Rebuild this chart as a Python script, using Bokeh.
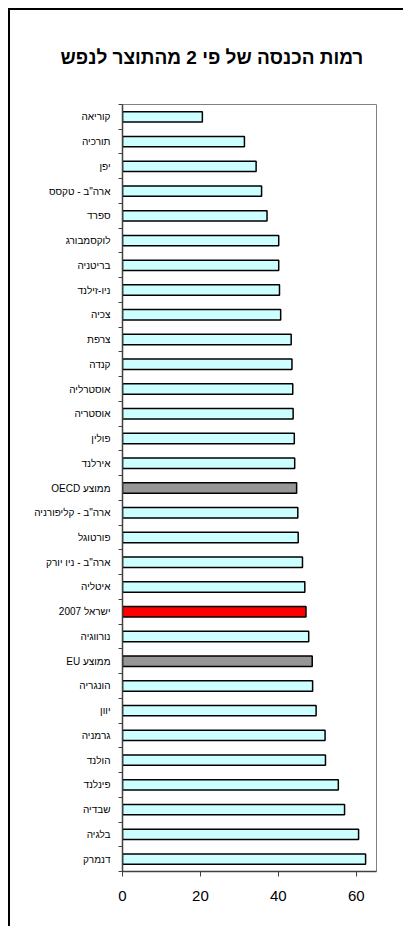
from bokeh.plotting import figure
from bokeh.models import Range1d, FixedTicker, ColumnDataSource
from bokeh.embed import file_html
from bokeh.resources import INLINE

title_text = "רמות הכנסה של פי 2 מהתוצר לנפש"

countries = [
    "קוריאה", "תורכיה", "יפן", 'ארה"ב - טקסס', "ספרד", "לוקסמבורג", "בריטניה",
    "ניו-זילנד", "צכיה", "צרפת", "קנדה", "אוסטרליה", "אוסטריה", "פולין", "אירלנד",
    "ממוצע OECD", 'ארה"ב - קליפורניה', "פורטוגל", 'ארה"ב - ניו יורק', "איטליה",
    "ישראל 2007", "נורווגיה", "ממוצע EU", "הונגריה", "יוון", "גרמניה", "הולנד",
    "פינלנד", "שבדיה", "בלגיה", "דנמרק",
]
values = [
    20.5, 31.3, 34.3, 35.7, 37.1, 40.1, 40.1, 40.3, 40.6, 43.3, 43.5, 43.7, 43.8,
    44.1, 44.2, 44.7, 45.0, 45.1, 46.2, 46.8, 47.1, 47.8, 48.7, 48.8, 49.7, 52.0,
    52.1, 55.4, 57.0, 60.6, 62.4,
]
x_ticks = [0, 20, 40, 60]

n = len(countries)
ypos = [n - i - 0.5 for i in range(n)]
colors = []
for c in countries:
    if c.startswith("ממוצע"):
        colors.append("#969696")
    elif c.startswith("ישראל"):
        colors.append("#FF0000")
    else:
        colors.append("#CCFFFF")


def rtl(s):
    # wrap mixed-script labels in a right-to-left embedding
    if any("A" <= ch <= "Z" for ch in s):
        return "\u202b" + s + "\u202c"
    return s


src = ColumnDataSource(dict(y=ypos, v=values, color=colors, name=countries))

p = figure(
    width=395, height=918,
    x_range=Range1d(0, 65.2), y_range=Range1d(0, n),
    output_backend="svg", toolbar_location=None,
    min_border_left=112, min_border_right=29, min_border_top=94, min_border_bottom=57,
    background_fill_color="white", border_fill_color="white",
)
p.styles = {
    "margin-left": "8px", "margin-top": "8px",
    "border-top": "2px solid black", "border-left": "2px solid black",
}

p.title.text = title_text
p.title.align = "left"
p.title.offset = -62
p.title.vertical_align = "middle"
p.title.standoff = 71
p.title.text_font = "Liberation Sans"
p.title.text_font_size = "19px"
p.title.text_font_style = "bold"
p.title.text_color = "black"

p.hbar(y="y", right="v", left=0, height=0.42, fill_color="color",
       line_color="black", line_width=1.5, source=src)

p.xgrid.visible = False
p.ygrid.visible = False
p.outline_line_color = "#808080"
p.outline_line_width = 1

p.xaxis.ticker = FixedTicker(ticks=x_ticks)
p.xaxis.major_tick_out = 5
p.xaxis.major_tick_in = 0
p.xaxis.minor_tick_line_color = None
p.xaxis.axis_line_color = "#404040"
p.xaxis.axis_line_width = 1.5
p.xaxis.major_tick_line_color = "#404040"
p.xaxis.major_label_text_font = "Liberation Sans"
p.xaxis.major_label_text_font_size = "15px"
p.xaxis.major_label_text_color = "black"
p.xaxis.major_label_standoff = 14

p.yaxis.ticker = FixedTicker(ticks=ypos, minor_ticks=list(range(n + 1)))
p.yaxis.major_label_overrides = {y: rtl(c) for y, c in zip(ypos, countries)}
p.yaxis.major_tick_out = 0
p.yaxis.major_tick_in = 0
p.yaxis.minor_tick_out = 4
p.yaxis.minor_tick_in = 0
p.yaxis.minor_tick_line_color = "#404040"
p.yaxis.axis_line_color = "#404040"
p.yaxis.axis_line_width = 1.5
p.yaxis.major_label_text_font = "Liberation Sans"
p.yaxis.major_label_text_font_size = "10px"
p.yaxis.major_label_text_color = "black"
p.yaxis.major_label_standoff = 8

open("out.html", "w").write(file_html(p, INLINE))
